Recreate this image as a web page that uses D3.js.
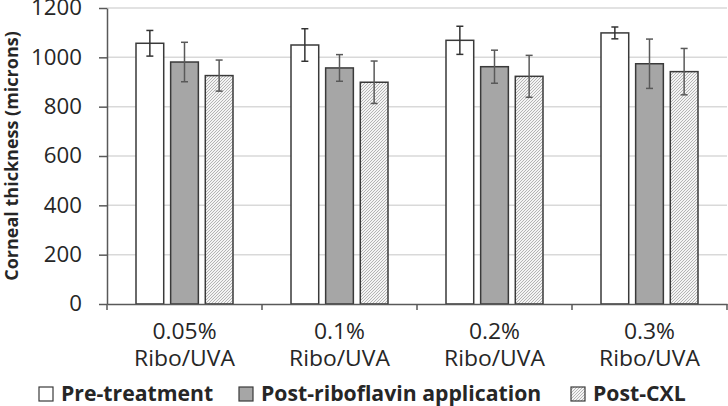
<!DOCTYPE html>
<html lang="en">
<head>
  <meta charset="UTF-8">
  <title>Corneal thickness</title>
  <script src="https://d3js.org/d3.v7.min.js"></script>
  <style>
    body { margin: 0; background: #fff; }
    svg text { font-family: "Open Sans", sans-serif; fill: #262626; }
  </style>
</head>
<body>
<div id="chart"></div>
<script>
  // data
  var categories = ["0.05%|Ribo/UVA", "0.1%|Ribo/UVA", "0.2%|Ribo/UVA", "0.3%|Ribo/UVA"];
  var seriesNames = ["Pre-treatment", "Post-riboflavin application", "Post-CXL"];
  var preMean  = [1057, 1050, 1069, 1099];
  var preErr   = [52, 66, 57, 24];
  var riboMean = [981, 957, 962, 974];
  var riboErr  = [80, 54, 67, 100];
  var cxlMean  = [926, 899, 923, 942];
  var cxlErr   = [63, 86, 85, 94];
  var yTicks = [0, 200, 400, 600, 800, 1000, 1200];

  var width = 728, height = 406;
  var margin = { left: 107, right: 1, top: 8, bottom: 102 };

  var svg = d3.select("#chart").append("svg")
    .attr("width", width)
    .attr("height", height);

  // the original figure is a little stretched sideways, so widen the glyphs
  function stretch(sel, k) {
    sel.each(function() {
      var len = this.getComputedTextLength();
      d3.select(this).attr("textLength", len * k).attr("lengthAdjust", "spacingAndGlyphs");
    });
  }

  // hatch for Post-CXL
  var defs = svg.append("defs");
  var pat = defs.append("pattern")
    .attr("id", "hatch")
    .attr("patternUnits", "userSpaceOnUse")
    .attr("width", 3).attr("height", 3);
  pat.append("rect").attr("width", 3).attr("height", 3).attr("fill", "#f4f4f4");
  pat.append("path")
    .attr("d", "M-1,1 l2,-2 M0,3 l3,-3 M2,4 l2,-2")
    .attr("stroke", "#adadad")
    .attr("stroke-width", 0.9);

  var x0 = d3.scaleBand()
    .domain(categories)
    .range([margin.left, width - margin.right]);

  var x1 = d3.scaleBand()
    .domain(seriesNames)
    .range([29, x0.bandwidth() - 29])
    .paddingInner(0.2);

  var y = d3.scaleLinear()
    .domain([0, 1200])
    .range([height - margin.bottom, margin.top]);

  // gridlines
  svg.append("g").selectAll("line")
    .data(yTicks.slice(1))
    .join("line")
    .attr("x1", margin.left).attr("x2", width - margin.right)
    .attr("y1", d => y(d)).attr("y2", d => y(d))
    .attr("stroke", "#d9d9d9").attr("stroke-width", 1.5);

  var series = [
    { name: seriesNames[0], mean: preMean, err: preErr, fill: "#ffffff", errColor: "#333" },
    { name: seriesNames[1], mean: riboMean, err: riboErr, fill: "#a6a6a6", errColor: "#595959" },
    { name: seriesNames[2], mean: cxlMean, err: cxlErr, fill: "url(#hatch)", errColor: "#595959" }
  ];

  var groups = svg.append("g").selectAll("g")
    .data(categories)
    .join("g")
    .attr("transform", d => "translate(" + x0(d) + ",0)");

  groups.each(function(cat, i) {
    var g = d3.select(this);
    series.forEach(function(s) {
      var bx = x1(s.name), bw = x1.bandwidth();
      g.append("rect")
        .attr("x", bx).attr("width", bw)
        .attr("y", y(s.mean[i]))
        .attr("height", y(0) - y(s.mean[i]))
        .attr("fill", s.fill)
        .attr("stroke", "#3a3a3a").attr("stroke-width", 1.5);
      var cx = bx + bw / 2;
      var hi = y(s.mean[i] + s.err[i]), lo = y(s.mean[i] - s.err[i]);
      g.append("line").attr("x1", cx).attr("x2", cx).attr("y1", hi).attr("y2", lo)
        .attr("stroke", s.errColor).attr("stroke-width", 1.5);
      [hi, lo].forEach(function(v) {
        g.append("line").attr("x1", cx - 3.5).attr("x2", cx + 3.5).attr("y1", v).attr("y2", v)
          .attr("stroke", s.errColor).attr("stroke-width", 1.5);
      });
    });
  });

  // y axis
  var yAxis = svg.append("g")
    .attr("transform", "translate(" + margin.left + ",0)")
    .call(d3.axisLeft(y).tickValues(yTicks).tickFormat(d3.format("d"))
      .tickSize(8).tickPadding(17).tickSizeOuter(0));
  yAxis.select(".domain").attr("stroke", "#595959").attr("stroke-width", 1.5);
  yAxis.selectAll(".tick line").attr("stroke", "#595959").attr("stroke-width", 1.5);
  yAxis.selectAll(".tick text")
    .style("font-size", "21px").attr("fill", "#262626")
    .call(stretch, 1.06);

  // x axis
  var xAxis = svg.append("g")
    .attr("transform", "translate(0," + y(0) + ")")
    .call(d3.axisBottom(x0).tickSize(0).tickFormat(""));
  xAxis.select(".domain").attr("stroke", "#595959").attr("stroke-width", 1.5);
  xAxis.selectAll(".tick").remove();

  // category boundary ticks
  svg.append("g").selectAll("line")
    .data(categories.concat(["end"]))
    .join("line")
    .attr("x1", (d, i) => margin.left + i * x0.bandwidth())
    .attr("x2", (d, i) => margin.left + i * x0.bandwidth())
    .attr("y1", y(0)).attr("y2", y(0) + 6)
    .attr("stroke", "#595959").attr("stroke-width", 1.5);

  var labels = svg.append("g").selectAll("text")
    .data(categories)
    .join("text")
    .attr("text-anchor", "middle")
    .style("font-size", "21px");
  labels.append("tspan")
    .attr("x", d => x0(d) + x0.bandwidth() / 2)
    .attr("y", 339)
    .text(d => d.split("|")[0]);
  labels.append("tspan")
    .attr("x", d => x0(d) + x0.bandwidth() / 2)
    .attr("y", 366)
    .text(d => d.split("|")[1]);
  labels.selectAll("tspan").call(stretch, 1.09);

  // y title
  svg.append("text")
    .attr("transform", "translate(12," + ((y(0) + y(1200)) / 2) + ") rotate(-90)")
    .attr("text-anchor", "middle")
    .attr("dy", "0.36em")
    .style("font-size", "18px").style("font-weight", "bold")
    .attr("fill", "#000")
    .text("Corneal thickness (microns)");

  // legend
  var legendX = [39, 239, 571];
  var legend = svg.append("g").selectAll("g")
    .data(series)
    .join("g")
    .attr("transform", (d, i) => "translate(" + legendX[i] + ",387)");
  legend.append("rect")
    .attr("width", 14).attr("height", 14)
    .attr("fill", d => d.fill)
    .attr("stroke", "#3a3a3a").attr("stroke-width", 1.2);
  legend.append("text")
    .attr("x", 22).attr("y", 14)
    .style("font-size", "21px").style("font-weight", "bold")
    .attr("fill", "#000")
    .text(d => d.name)
    .call(stretch, 1.01);
</script>
</body>
</html>
